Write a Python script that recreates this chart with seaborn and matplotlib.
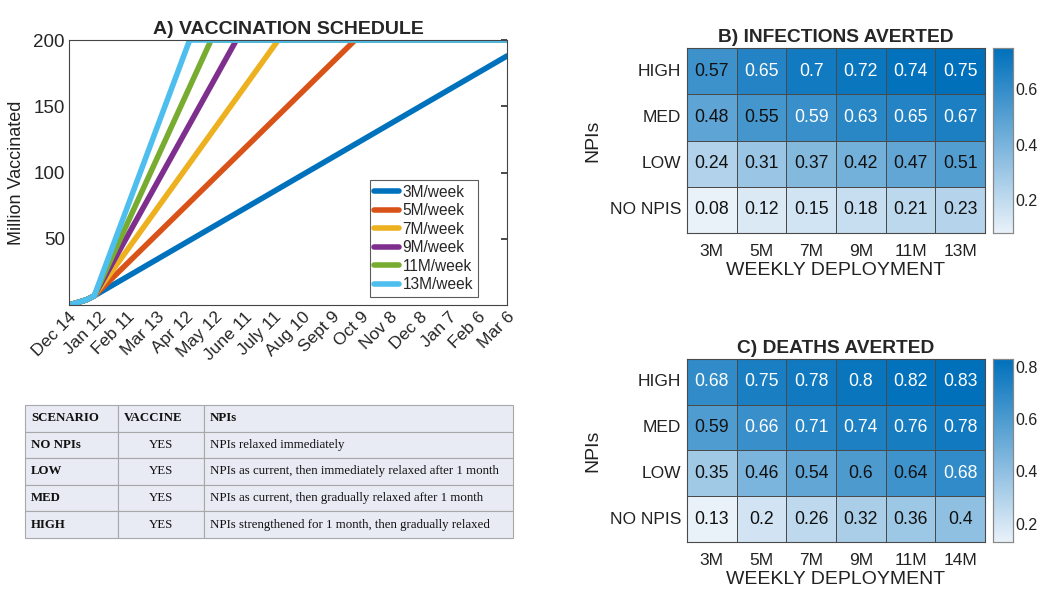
import numpy as np
import pandas as pd
import matplotlib
matplotlib.use("Agg")
import matplotlib.pyplot as plt
import seaborn as sns
from matplotlib.colors import LinearSegmentedColormap

# --- dati panel A: punti di svolta (giorno, milioni vaccinati)
rates = ['3M/week', '5M/week', '7M/week', '9M/week', '11M/week', '13M/week']
days_3m = [0, 18, 26, 450]
vals_3m = [0, 4, 7, 188]
days_5m = [0, 18, 26, 294, 450]
vals_5m = [0, 4, 7, 200, 200]
days_7m = [0, 18, 26, 215, 450]
vals_7m = [0, 4, 7, 200, 200]
days_9m = [0, 18, 26, 172, 450]
vals_9m = [0, 4, 7, 200, 200]
days_11m = [0, 18, 26, 146, 450]
vals_11m = [0, 4, 7, 200, 200]
days_13m = [0, 18, 26, 124, 450]
vals_13m = [0, 4, 7, 200, 200]
date_labels = ['Dec 14', 'Jan 12', 'Feb 11', 'Mar 13', 'Apr 12', 'May 12', 'June 11', 'July 11',
               'Aug 10', 'Sept 9', 'Oct 9', 'Nov 8', 'Dec 8', 'Jan 7', 'Feb 6', 'Mar 6']
line_colors = ['#0072BD', '#D95319', '#EDB120', '#7E2F8E', '#77AC30', '#4DBEEE']

# --- dati heatmap
npi_levels = ['HIGH', 'MED', 'LOW', 'NO NPIS']
deploy_b = ['3M', '5M', '7M', '9M', '11M', '13M']
deploy_c = ['3M', '5M', '7M', '9M', '11M', '14M']
infections_averted = [[0.57, 0.65, 0.70, 0.72, 0.74, 0.75],
                      [0.48, 0.55, 0.59, 0.63, 0.65, 0.67],
                      [0.24, 0.31, 0.37, 0.42, 0.47, 0.51],
                      [0.08, 0.12, 0.15, 0.18, 0.21, 0.23]]
deaths_averted = [[0.68, 0.75, 0.78, 0.80, 0.82, 0.83],
                  [0.59, 0.66, 0.71, 0.74, 0.76, 0.78],
                  [0.35, 0.46, 0.54, 0.60, 0.64, 0.68],
                  [0.13, 0.20, 0.26, 0.32, 0.36, 0.40]]

# --- tabella scenari
table_header = ['SCENARIO', 'VACCINE', 'NPIs']
table_rows = [['NO NPIs', 'YES', 'NPIs relaxed immediately'],
              ['LOW', 'YES', 'NPIs as current, then immediately relaxed after 1 month'],
              ['MED', 'YES', 'NPIs as current, then gradually relaxed after 1 month'],
              ['HIGH', 'YES', 'NPIs strengthened for 1 month, then gradually relaxed']]

sns.set_theme(style='white')
plt.rcParams['font.family'] = ['Liberation Sans', 'DejaVu Sans']

fig = plt.figure(figsize=(10.4, 5.89), dpi=100)

# ---------------- Panel A
all_days = [days_3m, days_5m, days_7m, days_9m, days_11m, days_13m]
all_vals = [vals_3m, vals_5m, vals_7m, vals_9m, vals_11m, vals_13m]
frames = []
for r, d, v in zip(rates, all_days, all_vals):
    frames.append(pd.DataFrame({'day': d, 'vacc': v, 'rate': r}))
df_sched = pd.concat(frames, ignore_index=True)

ax_a = fig.add_axes([0.0663, 0.482, 0.4212, 0.450])
sns.lineplot(data=df_sched, x='day', y='vacc', hue='rate', hue_order=rates,
             palette=line_colors, linewidth=4, ax=ax_a, sort=False)
ax_a.set_xlim(0, 450)
ax_a.set_ylim(0, 200)
ax_a.set_yticks([50, 100, 150, 200])
ax_a.set_xticks(np.arange(0, 451, 30))
ax_a.set_xticklabels(date_labels, rotation=45, ha='right', rotation_mode='anchor', fontsize=12.5)
ax_a.tick_params(axis='y', labelsize=13.5, direction='in', length=4, right=True, color='#333333', pad=3)
ax_a.tick_params(axis='x', direction='in', length=4, color='#333333', pad=3)
ax_a.set_xlabel('')
ax_a.set_ylabel('Million Vaccinated', fontsize=13, color='#222222', labelpad=6)
ax_a.set_title('A) VACCINATION SCHEDULE', fontsize=14, fontweight='bold', pad=4)
for s in ax_a.spines.values():
    s.set_color('#444444')
    s.set_linewidth(0.8)
leg = ax_a.legend(loc='lower right', bbox_to_anchor=(0.94, 0.02), fontsize=11.2,
                  handlelength=1.6, handletextpad=0.2, labelspacing=0.22,
                  frameon=True, fancybox=False, borderpad=0.3, borderaxespad=0.2)
leg.get_frame().set_edgecolor('#333333')
leg.get_frame().set_linewidth(0.8)

# ---------------- Tabella
ax_t = fig.add_axes([0.024, 0.0866, 0.469, 0.2258])
ax_t.axis('off')
col_px = [93, 86, 309]
col_w = [c / sum(col_px) for c in col_px]
tbl = ax_t.table(cellText=table_rows, colLabels=table_header, colWidths=col_w,
                 bbox=[0, 0, 1, 1], cellLoc='left', colLoc='left')
tbl.auto_set_font_size(False)
for (r, c), cell in tbl.get_celld().items():
    cell.set_facecolor('#E8EBF4')
    cell.set_edgecolor('#A8A8A8')
    cell.set_linewidth(0.8)
    cell.PAD = 6 / col_px[c]
    txt = cell.get_text()
    txt.set_fontfamily(['Liberation Serif', 'DejaVu Serif'])
    txt.set_fontsize(9.3)
    txt.set_color('#111111')
    if r == 0 or c == 0:
        txt.set_fontweight('bold')
    if r > 0 and c == 1:
        txt.set_horizontalalignment('center')
        cell._loc = 'center'

# ---------------- Heatmaps
cmap_blue = LinearSegmentedColormap.from_list('mblue', ['#E9F1F9', '#0070BB'])


def draw_heat(data, cols, rect, cbar_rect, title, cticks):
    df = pd.DataFrame(data, index=npi_levels, columns=cols)
    ax = fig.add_axes(rect)
    cax = fig.add_axes(cbar_rect)
    vmin, vmax = df.values.min(), df.values.max()
    sns.heatmap(df, ax=ax, cbar_ax=cax, cmap=cmap_blue, vmin=vmin, vmax=vmax,
                annot=True, fmt='g', annot_kws={'fontsize': 12.7},
                linewidths=0.6, linecolor='#4a4a4a')
    for t, v in zip(ax.texts, df.values.flatten()):
        t.set_color('white' if (v - vmin) / (vmax - vmin) > 0.745 else '#111111')
    for s in ['top', 'bottom', 'left', 'right']:
        ax.spines[s].set_visible(True)
        ax.spines[s].set_color('#4a4a4a')
        ax.spines[s].set_linewidth(0.8)
    ax.tick_params(axis='both', length=0, labelsize=12.5, colors='#222222')
    ax.tick_params(axis='x', pad=8)
    ax.tick_params(axis='y', pad=4)
    ax.set_yticklabels(npi_levels, rotation=0)
    ax.set_xlabel('WEEKLY DEPLOYMENT', fontsize=14, color='#222222', labelpad=2)
    ax.set_ylabel('NPIs', fontsize=14, color='#222222', labelpad=6)
    ax.set_title(title, fontsize=13.8, fontweight='bold', pad=4)
    cax.set_yticks(cticks)
    cax.tick_params(labelsize=11.5, direction='in', length=3, colors='#222222', pad=2)
    for s in cax.spines.values():
        s.set_visible(True)
        s.set_color('#888888')
        s.set_linewidth(0.8)


draw_heat(infections_averted, deploy_b, [0.6606, 0.6044, 0.2865, 0.3141],
          [0.9548, 0.6044, 0.0192, 0.3141], 'B) INFECTIONS AVERTED', [0.2, 0.4, 0.6])
draw_heat(deaths_averted, deploy_c, [0.6606, 0.0798, 0.2865, 0.3107],
          [0.9548, 0.0798, 0.0192, 0.3107], 'C) DEATHS AVERTED', [0.2, 0.4, 0.6, 0.8])

fig.savefig('out.png', dpi=100, facecolor='white')
